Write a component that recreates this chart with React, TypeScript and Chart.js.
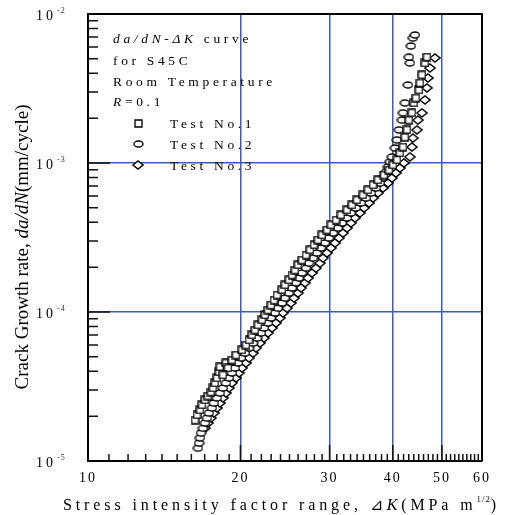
import React, { useEffect, useRef } from 'react';
import { Chart, registerables } from 'chart.js';

Chart.register(...registerables);

// ---- data ----
const test1K = [16.27, 16.42, 16.64, 16.79, 17.02, 17.25, 17.49, 17.65, 17.81, 17.97, 18.14, 18.22, 18.72, 18.9, 18.47, 19.24, 19.6, 20.14, 20.51, 20.8, 21.08, 21.37, 21.66, 22.06, 22.36, 22.67, 22.98, 23.3, 23.62, 24.16, 24.49, 24.94, 25.29, 25.63, 25.98, 26.46, 26.95, 27.44, 27.95, 28.46, 28.98, 29.65, 30.19, 30.89, 31.59, 32.47, 33.21, 33.97, 34.92, 35.72, 36.55, 37.38, 38.42, 39.3, 40.02, 40.76, 41.31, 41.88, 42.26, 42.65, 43.03, 43.62, 44.02, 44.43, 45.04, 45.24, 45.65, 46.28, 46.7];
const test1Rate = [1.88e-5, 2.04e-5, 2.2e-5, 2.38e-5, 2.57e-5, 2.73e-5, 2.9e-5, 3.09e-5, 3.34e-5, 3.61e-5, 3.96e-5, 4.28e-5, 4.55e-5, 4.21e-5, 3.78e-5, 4.76e-5, 5.14e-5, 5.56e-5, 6.0e-5, 6.49e-5, 7.01e-5, 7.57e-5, 8.18e-5, 8.84e-5, 9.55e-5, 1.03e-4, 1.11e-4, 1.2e-4, 1.3e-4, 1.41e-4, 1.52e-4, 1.64e-4, 1.77e-4, 1.91e-4, 2.07e-4, 2.23e-4, 2.41e-4, 2.61e-4, 2.82e-4, 3.04e-4, 3.29e-4, 3.55e-4, 3.84e-4, 4.14e-4, 4.48e-4, 4.84e-4, 5.23e-4, 5.65e-4, 6.1e-4, 6.59e-4, 7.12e-4, 7.69e-4, 8.3e-4, 8.97e-4, 9.7e-4, 1.05e-3, 1.17e-3, 1.28e-3, 1.49e-3, 1.67e-3, 1.94e-3, 2.17e-3, 2.53e-3, 2.73e-3, 3.09e-3, 3.44e-3, 3.9e-3, 4.69e-3, 5.14e-3];

const test2K = [16.49, 16.57, 16.64, 16.72, 16.87, 17.02, 17.18, 17.33, 17.57, 17.73, 17.97, 18.22, 18.47, 18.72, 18.98, 19.24, 19.51, 19.78, 20.05, 20.42, 20.8, 21.18, 21.57, 21.96, 22.26, 22.67, 22.98, 23.4, 23.72, 24.16, 24.49, 24.94, 25.29, 25.75, 26.1, 26.46, 26.95, 27.32, 27.82, 28.33, 28.85, 29.38, 29.92, 30.47, 31.17, 31.74, 32.47, 33.06, 33.82, 34.6, 35.4, 36.21, 37.05, 37.72, 38.24, 38.77, 39.12, 39.48, 39.84, 40.39, 40.76, 41.12, 41.69, 41.88, 42.26, 42.84, 43.23, 43.03, 43.43, 43.82, 44.23];
const test2Rate = [1.22e-5, 1.32e-5, 1.43e-5, 1.54e-5, 1.66e-5, 1.8e-5, 1.94e-5, 2.1e-5, 2.27e-5, 2.45e-5, 2.65e-5, 2.86e-5, 3.09e-5, 3.34e-5, 3.61e-5, 3.9e-5, 4.21e-5, 4.55e-5, 4.91e-5, 5.3e-5, 5.73e-5, 6.19e-5, 6.69e-5, 7.23e-5, 7.81e-5, 8.44e-5, 9.12e-5, 9.85e-5, 1.06e-4, 1.15e-4, 1.24e-4, 1.34e-4, 1.45e-4, 1.57e-4, 1.69e-4, 1.83e-4, 1.97e-4, 2.13e-4, 2.3e-4, 2.49e-4, 2.69e-4, 2.91e-4, 3.14e-4, 3.39e-4, 3.66e-4, 3.96e-4, 4.28e-4, 4.62e-4, 4.99e-4, 5.39e-4, 5.82e-4, 6.29e-4, 6.79e-4, 7.34e-4, 7.93e-4, 8.7e-4, 9.4e-4, 1.02e-3, 1.1e-3, 1.26e-3, 1.43e-3, 1.67e-3, 1.94e-3, 2.17e-3, 2.53e-3, 3.34e-3, 4.69e-3, 5.14e-3, 6.1e-3, 6.9e-3, 7.23e-3];

const test3K = [17.02, 17.25, 17.49, 17.73, 17.97, 18.22, 18.47, 18.72, 18.98, 19.24, 19.6, 19.87, 20.14, 20.51, 20.8, 21.18, 21.47, 21.86, 22.26, 22.67, 23.09, 23.51, 23.94, 24.27, 24.72, 25.17, 25.52, 25.98, 26.34, 26.83, 27.2, 27.69, 28.2, 28.72, 29.11, 29.65, 30.19, 30.75, 31.31, 31.88, 32.47, 33.06, 33.67, 34.44, 35.08, 35.89, 36.55, 37.38, 38.24, 39.12, 39.84, 40.57, 41.31, 42.07, 43.23, 43.62, 43.82, 44.63, 44.83, 45.65, 46.28, 46.7, 46.91, 47.34, 48.43];
const test3Rate = [1.66e-5, 1.8e-5, 1.94e-5, 2.1e-5, 2.27e-5, 2.45e-5, 2.65e-5, 2.86e-5, 3.09e-5, 3.34e-5, 3.61e-5, 3.9e-5, 4.21e-5, 4.55e-5, 4.91e-5, 5.3e-5, 5.73e-5, 6.19e-5, 6.69e-5, 7.23e-5, 7.81e-5, 8.44e-5, 9.12e-5, 9.85e-5, 1.06e-4, 1.15e-4, 1.24e-4, 1.34e-4, 1.45e-4, 1.57e-4, 1.69e-4, 1.83e-4, 1.97e-4, 2.13e-4, 2.3e-4, 2.49e-4, 2.69e-4, 2.91e-4, 3.14e-4, 3.39e-4, 3.66e-4, 3.96e-4, 4.28e-4, 4.62e-4, 4.99e-4, 5.39e-4, 5.82e-4, 6.29e-4, 6.79e-4, 7.34e-4, 7.93e-4, 8.57e-4, 9.26e-4, 1.0e-3, 1.1e-3, 1.28e-3, 1.47e-3, 1.67e-3, 1.94e-3, 2.17e-3, 2.65e-3, 3.19e-3, 3.72e-3, 4.34e-3, 5.07e-3];

const seriesNames = ['Test No.1', 'Test No.2', 'Test No.3'];

const xMajorTicks = [10, 20, 30, 40, 50, 60];
const xTickLabels = ['10', '20', '30', '40', '50', '60'];
const xGridValues = [20, 30, 40, 50];
const yMajorTicks = [1e-5, 1e-4, 1e-3, 1e-2];
const yTickExponents = ['-5', '-4', '-3', '-2'];
const yGridValues = [1e-4, 1e-3];

type Seg = { t: string; i?: boolean; sup?: boolean };
const yTitle: Seg[] = [{ t: 'Crack Growth rate, ' }, { t: 'da/dN', i: true }, { t: '(mm/cycle)' }];
const xTitle: Seg[] = [{ t: 'Stress intensity factor range, ⊿' }, { t: 'K', i: true }, { t: '(MPa m' }, { t: '1/2', sup: true }, { t: ')' }];
const noteLines: Seg[][] = [
  [{ t: 'da/dN-ΔK', i: true }, { t: ' curve' }],
  [{ t: 'for S45C' }],
  [{ t: 'Room Temperature' }],
  [{ t: 'R', i: true }, { t: '=0.1' }],
];

const FONT = '"Liberation Serif", "DejaVu Serif", serif';
const BLUE = '#3d5db5';

function fontOf(s: Seg, size: number) {
  const fs = s.sup ? size * 0.55 : size;
  return `${s.i ? 'italic ' : ''}${fs}px ${FONT}`;
}
function richWidth(ctx: CanvasRenderingContext2D, segs: Seg[], size: number, ls: number) {
  let w = 0;
  for (const s of segs) {
    ctx.font = fontOf(s, size);
    (ctx as any).letterSpacing = `${s.sup ? 1 : ls}px`;
    w += ctx.measureText(s.t).width;
  }
  return w;
}
function drawRich(ctx: CanvasRenderingContext2D, segs: Seg[], x: number, y: number, size: number, ls: number) {
  let cx = x;
  for (const s of segs) {
    ctx.font = fontOf(s, size);
    (ctx as any).letterSpacing = `${s.sup ? 1 : ls}px`;
    ctx.fillText(s.t, cx, s.sup ? y - size * 0.5 : y);
    cx += ctx.measureText(s.t).width;
  }
}
function spacingFor(ctx: CanvasRenderingContext2D, segs: Seg[], size: number, target: number) {
  const w0 = richWidth(ctx, segs, size, 0);
  const n = segs.filter((s) => !s.sup).reduce((a, s) => a + s.t.length, 0);
  return Math.max(0, (target - w0) / n);
}

function makeMarker(kind: string) {
  const c = document.createElement('canvas');
  const g = c.getContext('2d')!;
  if (kind === 'square') {
    c.width = 9; c.height = 9;
  } else if (kind === 'oval') {
    c.width = 11; c.height = 8;
  } else {
    c.width = 12; c.height = 10;
  }
  g.fillStyle = '#fff';
  g.strokeStyle = '#000';
  g.lineWidth = 1.35;
  g.beginPath();
  if (kind === 'square') g.rect(1, 1, 7, 7);
  else if (kind === 'oval') g.ellipse(5.5, 4, 4.5, 3, 0, 0, Math.PI * 2);
  else {
    g.moveTo(0.9, 5); g.lineTo(6, 0.9); g.lineTo(11.1, 5); g.lineTo(6, 9.1); g.closePath();
  }
  g.fill();
  g.stroke();
  return c;
}

export default function App() {
  const ref = useRef<HTMLCanvasElement>(null);
  useEffect(() => {
    document.body.style.margin = '0';
    const canvas = ref.current!;
    const markers = [makeMarker('square'), makeMarker('oval'), makeMarker('diamond')];
    const pts = (k: number[], r: number[]) => k.map((v, i) => ({ x: v, y: r[i] }));

    const decor = {
      id: 'decor',
      beforeDraw(chart: any) {
        chart.ctx.letterSpacing = '2px';
      },
      beforeDatasetsDraw(chart: any) {
        const { ctx, chartArea: a, scales } = chart;
        ctx.save();
        ctx.strokeStyle = '#111';
        ctx.lineWidth = 1.5;
        ctx.beginPath();
        for (const t of scales.x.ticks) {
          const v = t.value;
          if (v <= 10 || v >= 60) continue;
          const px = scales.x.getPixelForValue(v);
          const len = v % 10 === 0 ? 16 : 7;
          ctx.moveTo(px, a.bottom);
          ctx.lineTo(px, a.bottom - len);
        }
        for (const t of scales.y.ticks) {
          const v = t.value;
          if (v <= 1.0001e-5 || v >= 0.9999e-2) continue;
          const py = scales.y.getPixelForValue(v);
          const major = yGridValues.some((g) => Math.abs(g - v) / g < 1e-6);
          const len = major ? 22 : 10;
          ctx.moveTo(a.left, py);
          ctx.lineTo(a.left + len, py);
        }
        ctx.stroke();
        // top and right frame
        ctx.strokeStyle = '#000';
        ctx.lineWidth = 2;
        ctx.beginPath();
        ctx.moveTo(a.left, a.top);
        ctx.lineTo(a.right, a.top);
        ctx.lineTo(a.right, a.bottom);
        ctx.stroke();
        ctx.restore();
      },
      afterDraw(chart: any) {
        const { ctx, scales } = chart;
        ctx.save();
        ctx.fillStyle = '#000';
        ctx.textAlign = 'left';
        ctx.textBaseline = 'alphabetic';
        // y tick labels 10^n
        yMajorTicks.forEach((v, i) => {
          const py = scales.y.getPixelForValue(v);
          ctx.font = `14px ${FONT}`;
          ctx.letterSpacing = '3px';
          ctx.fillText('10', 36, py + 6);
          ctx.font = `8px ${FONT}`;
          ctx.letterSpacing = '1px';
          ctx.fillStyle = '#333';
          ctx.fillText(yTickExponents[i], 57, py - 1);
          ctx.fillStyle = '#000';
        });
        // y title
        ctx.save();
        ctx.translate(28, 247);
        ctx.rotate(-Math.PI / 2);
        const ySize = 19;
        const yw = richWidth(ctx, yTitle, ySize, 0);
        drawRich(ctx, yTitle, -yw / 2, 0, ySize, 0);
        ctx.restore();
        // x title
        const xSize = 16;
        const xls = spacingFor(ctx, xTitle, xSize, 437);
        drawRich(ctx, xTitle, 63, 510, xSize, xls);
        // note block
        const nSize = 13.5;
        const nls = spacingFor(ctx, noteLines[2], nSize, 163);
        const lineY = [38, 60, 81, 101];
        noteLines.forEach((segs, i) => drawRich(ctx, segs, 113, lineY[i] + 4.5, nSize, nls));
        const legY = [123, 144, 165];
        seriesNames.forEach((name, i) => {
          const m = markers[i];
          ctx.drawImage(m, Math.round(138 - m.width / 2), Math.round(legY[i] - m.height / 2));
          drawRich(ctx, [{ t: name }], 170, legY[i] + 4.5, nSize, nls);
        });
        ctx.restore();
      },
    };

    const chart = new Chart(canvas, {
      type: 'scatter',
      data: {
        datasets: [
          { label: seriesNames[0], data: pts(test1K, test1Rate), pointStyle: markers[0] as any, pointRadius: 4 },
          { label: seriesNames[1], data: pts(test2K, test2Rate), pointStyle: markers[1] as any, pointRadius: 4 },
          { label: seriesNames[2], data: pts(test3K, test3Rate), pointStyle: markers[2] as any, pointRadius: 4 },
        ],
      },
      options: {
        responsive: false,
        animation: false,
        devicePixelRatio: 1,
        layout: { padding: { top: 14, right: 28, left: 0, bottom: 0 } },
        plugins: { legend: { display: false }, tooltip: { enabled: false } },
        scales: {
          x: {
            type: 'logarithmic',
            position: 'bottom',
            min: 10,
            max: 60,
            afterBuildTicks: (s: any) => {
              const t: any[] = [];
              for (let v = xMajorTicks[0]; v <= xMajorTicks[xMajorTicks.length - 1]; v++) t.push({ value: v });
              s.ticks = t;
            },
            afterFit: (s: any) => { s.height = 54; },
            grid: {
              color: (c: any) => (c.tick && xGridValues.includes(c.tick.value) ? BLUE : 'rgba(0,0,0,0)'),
              lineWidth: 1.5,
              drawTicks: false,
            },
            border: { display: true, color: '#000', width: 2 },
            ticks: {
              autoSkip: false,
              maxRotation: 0,
              padding: 9,
              color: '#000',
              font: { family: FONT, size: 14 },
              callback: (v: any) => {
                const i = xMajorTicks.indexOf(Number(v));
                return i >= 0 ? xTickLabels[i] : '';
              },
            },
          },
          y: {
            type: 'logarithmic',
            min: 1e-5,
            max: 1e-2,
            afterBuildTicks: (s: any) => {
              const t: any[] = [];
              for (let d = 0; d < yMajorTicks.length - 1; d++) {
                for (let m = 1; m <= 9; m++) t.push({ value: yMajorTicks[d] * m });
              }
              t.push({ value: yMajorTicks[yMajorTicks.length - 1] });
              s.ticks = t;
            },
            afterFit: (s: any) => { s.width = 88; },
            grid: {
              color: (c: any) =>
                c.tick && yGridValues.some((g) => Math.abs(g - c.tick.value) / g < 1e-6) ? BLUE : 'rgba(0,0,0,0)',
              lineWidth: 1.5,
              drawTicks: false,
            },
            border: { display: true, color: '#000', width: 2 },
            ticks: { display: false },
          },
        },
      } as any,
      plugins: [decor],
    });
    return () => chart.destroy();
  }, []);

  return (
    <div style={{ position: 'absolute', left: 0, top: 0, width: 510, height: 515, background: '#fff' }}>
      <canvas ref={ref} width={510} height={515} />
    </div>
  );
}
